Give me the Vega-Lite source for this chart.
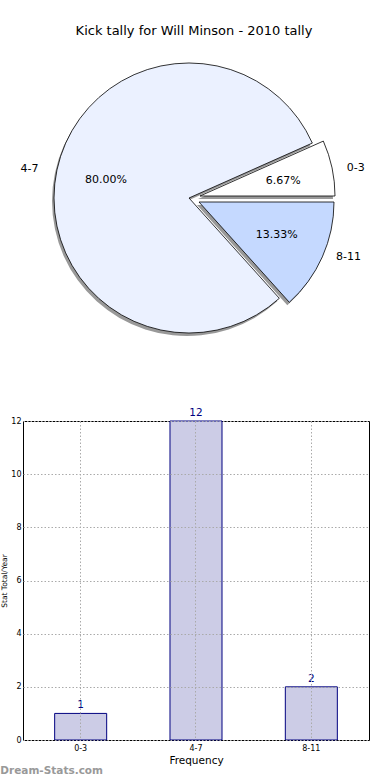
{
  "$schema": "https://vega.github.io/schema/vega-lite/v6.json",
  "background": "white",
  "padding": {"left": 0, "top": 25, "right": 0, "bottom": 0},
  "config": {
    "font": "DejaVu Sans",
    "view": {"stroke": null},
    "title": {"font": "DejaVu Sans", "fontWeight": "normal", "color": "#000000"}
  },
  "datasets": {
    "kicks": [
      {"cat": "0-3", "count": 1, "pct": 0.0667},
      {"cat": "4-7", "count": 12, "pct": 0.8},
      {"cat": "8-11", "count": 2, "pct": 0.1333}
    ]
  },
  "title": {
    "text": "Dream-Stats.com",
    "orient": "bottom",
    "anchor": "start",
    "frame": "bounds",
    "offset": 0,
    "fontSize": 10.5,
    "fontWeight": "bold",
    "color": "#999999"
  },
  "spacing": 59,
  "vconcat": [
    {
      "width": 332,
      "height": 300,
      "title": {"text": "Kick tally for Will Minson - 2010 tally", "fontSize": 13, "offset": 10, "dx": 5},
      "data": {"name": "kicks"},
      "encoding": {
        "theta": {"field": "count", "type": "quantitative", "stack": true, "scale": {"range": [1.5708, 7.854]}},
        "order": {"field": "cat", "sort": "descending"}
      },
      "layer": [
        {"mark": {"type": "arc", "outerRadius": 135, "fill": "#999999", "xOffset": -2, "yOffset": 3},
         "encoding": {"opacity": {"condition": {"test": "datum.cat === '4-7'", "value": 1}, "value": 0}}},
        {"mark": {"type": "arc", "outerRadius": 135, "fill": "#999999", "xOffset": 9, "yOffset": 1},
         "encoding": {"opacity": {"condition": {"test": "datum.cat === '0-3'", "value": 1}, "value": 0}}},
        {"mark": {"type": "arc", "outerRadius": 135, "fill": "#999999", "xOffset": 8, "yOffset": 7},
         "encoding": {"opacity": {"condition": {"test": "datum.cat === '8-11'", "value": 1}, "value": 0}}},
        {"mark": {"type": "arc", "outerRadius": 135, "stroke": "#000000", "strokeWidth": 0.8},
         "encoding": {
           "fill": {"field": "cat", "type": "nominal", "scale": {"domain": ["0-3", "4-7", "8-11"], "range": ["#ffffff", "#ebf1ff", "#c5d9ff"]}, "legend": null},
           "opacity": {"condition": {"test": "datum.cat === '4-7'", "value": 1}, "value": 0}}},
        {"mark": {"type": "arc", "outerRadius": 135, "stroke": "#000000", "strokeWidth": 0.8, "xOffset": 11, "yOffset": -2},
         "encoding": {
           "fill": {"field": "cat", "type": "nominal", "legend": null},
           "opacity": {"condition": {"test": "datum.cat === '0-3'", "value": 1}, "value": 0}}},
        {"mark": {"type": "arc", "outerRadius": 135, "stroke": "#000000", "strokeWidth": 0.8, "xOffset": 10, "yOffset": 4},
         "encoding": {
           "fill": {"field": "cat", "type": "nominal", "legend": null},
           "opacity": {"condition": {"test": "datum.cat === '8-11'", "value": 1}, "value": 0}}},
        {"mark": {"type": "text", "radius": 85, "fontSize": 11, "color": "#000000"},
         "encoding": {
           "text": {"field": "pct", "type": "quantitative", "format": ".2%"},
           "opacity": {"condition": {"test": "datum.cat === '4-7'", "value": 1}, "value": 0}}},
        {"mark": {"type": "text", "radius": 85, "fontSize": 11, "color": "#000000", "xOffset": 11, "yOffset": 1},
         "encoding": {
           "text": {"field": "pct", "type": "quantitative", "format": ".2%"},
           "opacity": {"condition": {"test": "datum.cat === '0-3'", "value": 1}, "value": 0}}},
        {"mark": {"type": "text", "radius": 85, "fontSize": 11, "color": "#000000", "xOffset": 10, "yOffset": 2},
         "encoding": {
           "text": {"field": "pct", "type": "quantitative", "format": ".2%"},
           "opacity": {"condition": {"test": "datum.cat === '8-11'", "value": 1}, "value": 0}}},
        {"mark": {"type": "text", "radius": 163, "fontSize": 11, "color": "#000000", "yOffset": 5},
         "encoding": {
           "text": {"field": "cat", "type": "nominal"},
           "opacity": {"condition": {"test": "datum.cat === '4-7'", "value": 1}, "value": 0}}},
        {"mark": {"type": "text", "radius": 150, "fontSize": 11, "color": "#000000", "xOffset": 20, "yOffset": 1},
         "encoding": {
           "text": {"field": "cat", "type": "nominal"},
           "opacity": {"condition": {"test": "datum.cat === '0-3'", "value": 1}, "value": 0}}},
        {"mark": {"type": "text", "radius": 155, "fontSize": 11, "color": "#000000", "xOffset": 18, "yOffset": -4},
         "encoding": {
           "text": {"field": "cat", "type": "nominal"},
           "opacity": {"condition": {"test": "datum.cat === '8-11'", "value": 1}, "value": 0}}}
      ]
    },
    {
      "width": 346,
      "height": 319,
      "view": {"stroke": "#000000", "strokeWidth": 1},
      "data": {"name": "kicks"},
      "encoding": {
        "x": {
          "field": "cat", "type": "nominal",
          "scale": {"paddingInner": 0.549, "paddingOuter": 0.2745},
          "axis": {
            "title": "Frequency", "titleFontSize": 10.5, "titleFontWeight": "normal", "titlePadding": 3,
            "labelAngle": 0, "labelFontSize": 8, "labelPadding": 4, "labelColor": "#000000",
            "ticks": false, "domain": false,
            "grid": true, "gridDash": [1.5, 2], "gridColor": "#aaaaaa", "gridWidth": 1, "zindex": 1
          }
        }
      },
      "layer": [
        {
          "mark": {"type": "bar", "fill": "#ccccE6", "stroke": "#000080", "strokeWidth": 1},
          "encoding": {
            "y": {
              "field": "count", "type": "quantitative",
              "scale": {"domain": [0, 12], "nice": false},
              "axis": {
                "title": "Stat Total/Year", "titleFontSize": 7.5, "titleFontWeight": "normal", "titlePadding": 2, "titleColor": "#000000",
                "values": [0, 2, 4, 6, 8, 10, 12],
                "labelFontSize": 8, "labelPadding": 2, "labelColor": "#000000",
                "ticks": false, "domain": false,
                "grid": true, "gridDash": [1.5, 2], "gridColor": "#aaaaaa", "gridWidth": 1, "zindex": 1
              }
            }
          }
        },
        {
          "mark": {"type": "text", "dy": -8, "color": "#000080", "fontSize": 10.5},
          "encoding": {
            "y": {"field": "count", "type": "quantitative"},
            "text": {"field": "count", "type": "quantitative"}
          }
        }
      ]
    }
  ]
}
